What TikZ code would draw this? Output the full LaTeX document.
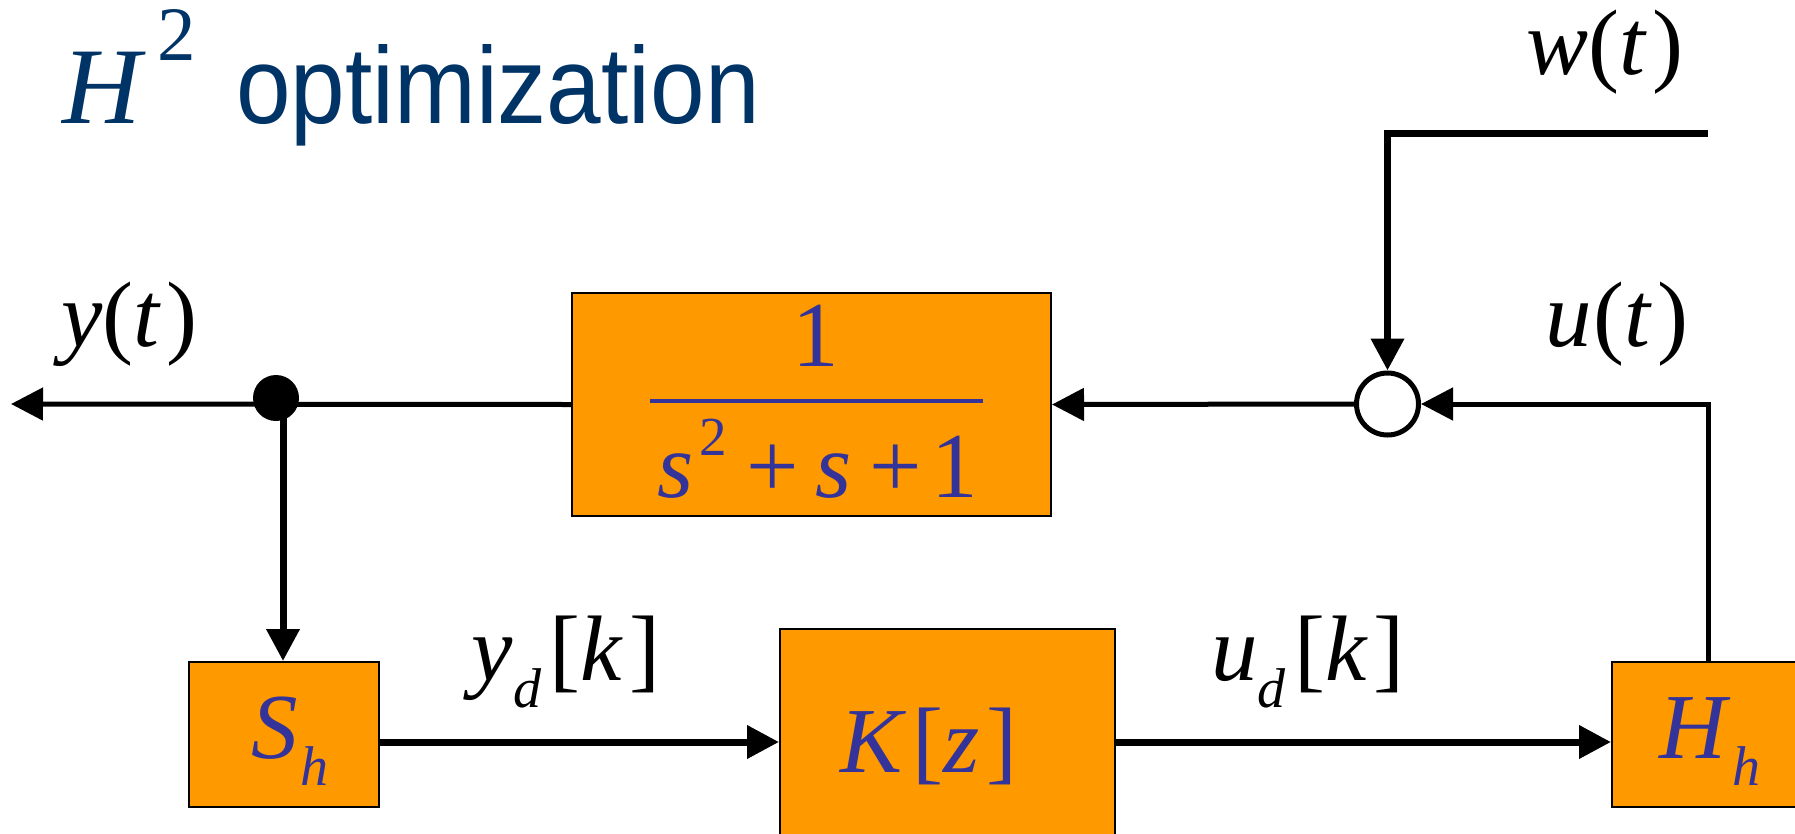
\documentclass[tikz,border=0pt]{standalone}
\usepackage{fontspec}
\setmainfont{Liberation Serif}
\newfontfamily\titlesans[FakeStretch=0.9]{Liberation Sans}
\usetikzlibrary{arrows.meta}
\definecolor{boxorange}{RGB}{255,153,0}
\definecolor{mathblue}{RGB}{51,51,153}
\definecolor{titleblue}{RGB}{0,51,102}
\newcommand\mv[1]{\textit{#1}}
\newcommand\lsub[1]{\raisebox{-27pt}{\fontsize{56}{60}\selectfont\textit{#1}}}
\newcommand\lsup[1]{\raisebox{42pt}{\fontsize{55}{60}\selectfont #1}}
\begin{document}
\begin{tikzpicture}[x=1pt,y=-1pt,
  blk/.style={draw=black, line width=2pt, fill=boxorange, inner sep=0pt},
  thin/.style={line width=5pt},
  thick/.style={line width=7pt},
  arr/.style={-{Triangle[length=32pt,width=32pt]}},
  lbl/.style={font=\fontsize{93}{100}\selectfont, inner sep=0pt, anchor=base},
  bluetext/.style={text=mathblue, font=\fontsize{93}{100}\selectfont, inner sep=0pt, anchor=base}]
\useasboundingbox (0,0) rectangle (1795,833);
\clip (0,0) rectangle (1795,833);
\fill[white] (0,0) rectangle (1795,833);

% title
\node[anchor=base west, inner sep=0pt, text=titleblue] (title) at (62,123)
  {\fontsize{109}{120}\selectfont\mv{H}\hspace{12pt}\raisebox{63pt}{\fontsize{77}{80}\selectfont 2}\hspace{40pt}{\titlesans optimization}};

% blocks
\node[blk, minimum width=479pt, minimum height=223pt] (plant) at (811.5,404.5) {};
\node[blk, minimum width=190pt, minimum height=145pt] (Sh) at (284,734.5) {};
\node[blk, minimum width=335pt, minimum height=260pt] (K) at (947.5,758.5) {};
\node[blk, minimum width=300pt, minimum height=145pt] (Hh) at (1762,734.5) {};

% block texts
\node[bluetext] (num) at (816,366) {1};
\node[bluetext] (den) at (818,497) {\mv{s}\hspace{5pt}\lsup{2}\hspace{20pt}+\hspace{16pt}\mv{s}\hspace{18pt}+\hspace{10pt}1};
\draw[mathblue, line width=4pt] (650,400.5) -- (983,400.5);
\node[bluetext] (Sht) at (290,758) {\mv{S}\hspace{2pt}\lsub{h}};
\node[bluetext] (Kt) at (929,772) {\mv{K}\hspace{6pt}[\mv{z}\hspace{6pt}]};
\node[bluetext] (Hht) at (1710,758) {\mv{H}\hspace{2pt}\lsub{h}};

% labels
\node[lbl] (wl) at (1605,74) {\mv{w}(\mv{t}\hspace{5pt})};
\node[lbl] (ul) at (1617,346) {\mv{u}\hspace{2pt}(\mv{t}\hspace{5pt})};
\node[lbl] (yl) at (129,346) {\mv{y}(\mv{t}\hspace{5pt})};
\node[lbl] (ydl) at (566,680) {\mv{y}\lsub{d}\hspace{8pt}[\mv{k}\hspace{6pt}]};
\node[lbl] (udl) at (1308,680) {\mv{u}\lsub{d}\hspace{8pt}[\mv{k}\hspace{6pt}]};

% junctions
\node[circle, draw=black, line width=5pt, fill=white, minimum size=62pt, inner sep=0pt] (sum) at (1387.5,404) {};
\coordinate (jn) at (283,404);
\coordinate (yout) at (11,404);
\coordinate (wend) at (1708,133);
\coordinate (wc) at (1387.5,133);
\coordinate (rc) at (1708,404);
\coordinate (bl) at (0,742);

% connectors
\draw[thin, arr] (plant.west) -- (yout);
\draw[thin, arr] (sum.west) -- (plant.east);
\draw[thin, arr] (Hh.north -| rc) -- (rc) -- (sum.east);
\draw[thick, arr] (wend) -- (wc) -- (sum.north);
\draw[thick, arr] (jn) -- (jn |- Sh.north);
\draw[thick, arr] (Sh.east |- bl) -- (K.west |- bl);
\draw[thick, arr] (K.east |- bl) -- (Hh.west |- bl);
\node[circle, fill=black, minimum size=46pt, inner sep=0pt] (dot) at (276,398) {};
\end{tikzpicture}
\end{document}
